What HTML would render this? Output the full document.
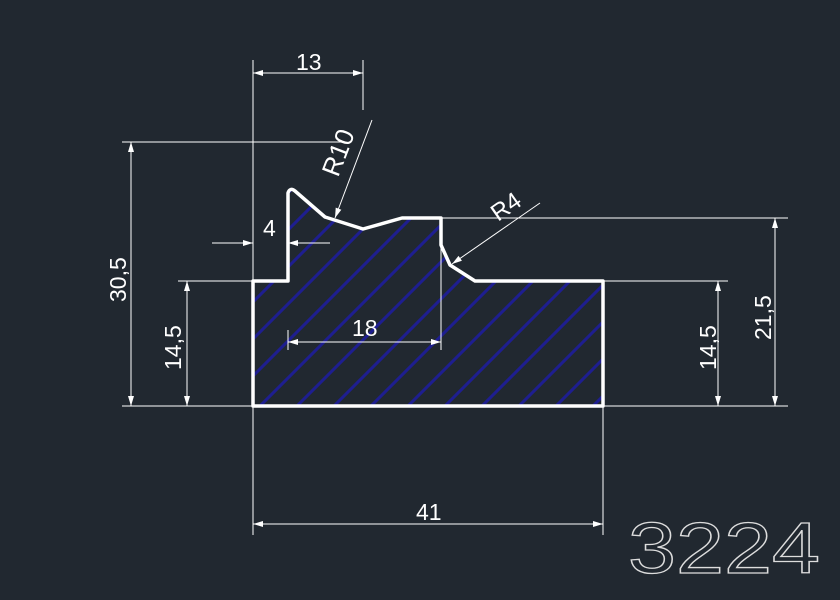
<!DOCTYPE html><html><head><style>html,body{margin:0;padding:0;background:#212830}svg{display:block}</style></head><body>
<svg width="840" height="600" viewBox="0 0 840 600" xmlns="http://www.w3.org/2000/svg" font-family="Liberation Sans, sans-serif">
<rect width="840" height="600" fill="#212830"/>
<defs>
<clipPath id="c"><path d="M253,406 L253,281 L288,281 L288,193 Q290,187 295,191 L325,217 L363,229 L402,218 L441,218 L441,245 L450,265 L475,281 L603,281 L603,406 Z"/></clipPath>
<marker id="a" viewBox="0 0 10 6" refX="10" refY="3" markerWidth="16" markerHeight="6" markerUnits="userSpaceOnUse" orient="auto-start-reverse"><path d="M0,0 L10,3 L0,6 Z" fill="#fff"/></marker>
<pattern id="h" patternUnits="userSpaceOnUse" width="37" height="37">
<path d="M-5,42 L42,-5 M-5,5 L5,-5 M32,42 L42,32" stroke="#1e1e90" stroke-width="3"/>
</pattern>
</defs>
<path d="M253,406 L253,281 L288,281 L288,193 Q290,187 295,191 L325,217 L363,229 L402,218 L441,218 L441,245 L450,265 L475,281 L603,281 L603,406 Z" fill="url(#h)"/>
<g stroke="#fff" stroke-width="1" fill="none">
<path d="M253,60 V535 M363,60 V110 M603,406 V535 M122,142 H345 M178,281 H253 M603,281 H728 M441,218 H788 M122,406 H788 M288,330 V350 M441,245 V350"/>
<path d="M253,73 H363" marker-start="url(#a)" marker-end="url(#a)"/>
<path d="M131,142 V406" marker-start="url(#a)" marker-end="url(#a)"/>
<path d="M187,281 V406" marker-start="url(#a)" marker-end="url(#a)"/>
<path d="M718,281 V406" marker-start="url(#a)" marker-end="url(#a)"/>
<path d="M775,218 V406" marker-start="url(#a)" marker-end="url(#a)"/>
<path d="M253,524 H603" marker-start="url(#a)" marker-end="url(#a)"/>
<path d="M288,342 H441" marker-start="url(#a)" marker-end="url(#a)"/>
<path d="M212,243 H253" marker-end="url(#a)"/>
<path d="M330,243 H288" marker-end="url(#a)"/>
<path d="M372,120 L335,218" marker-end="url(#a)"/>
<path d="M540,203 L452,264" marker-end="url(#a)"/>
</g>
<path d="M253,406 L253,281 L288,281 L288,193 Q290,187 295,191 L325,217 L363,229 L402,218 L441,218 L441,245 L450,265 L475,281 L603,281 L603,406 Z" fill="none" stroke="#fff" stroke-width="3.5" stroke-linejoin="round"/>
<g fill="#fff" font-size="23">
<text x="296" y="70">13</text>
<text x="416" y="520">41</text>
<text x="352" y="336">18</text>
<text x="263" y="236">4</text>
<text transform="translate(126,302) rotate(-90)">30,5</text>
<text transform="translate(181,370) rotate(-90)">14,5</text>
<text transform="translate(716,370) rotate(-90)">14,5</text>
<text transform="translate(771,340) rotate(-90)">21,5</text>
<text transform="translate(338,178) rotate(-69)" font-size="26">R10</text>
<text transform="translate(498,222) rotate(-35)" font-size="24">R4</text>
</g>
<text x="628" y="573" font-size="72" fill="none" stroke="#ddd" stroke-width="1.3" textLength="192" lengthAdjust="spacingAndGlyphs">3224</text>
</svg>
</body></html>
